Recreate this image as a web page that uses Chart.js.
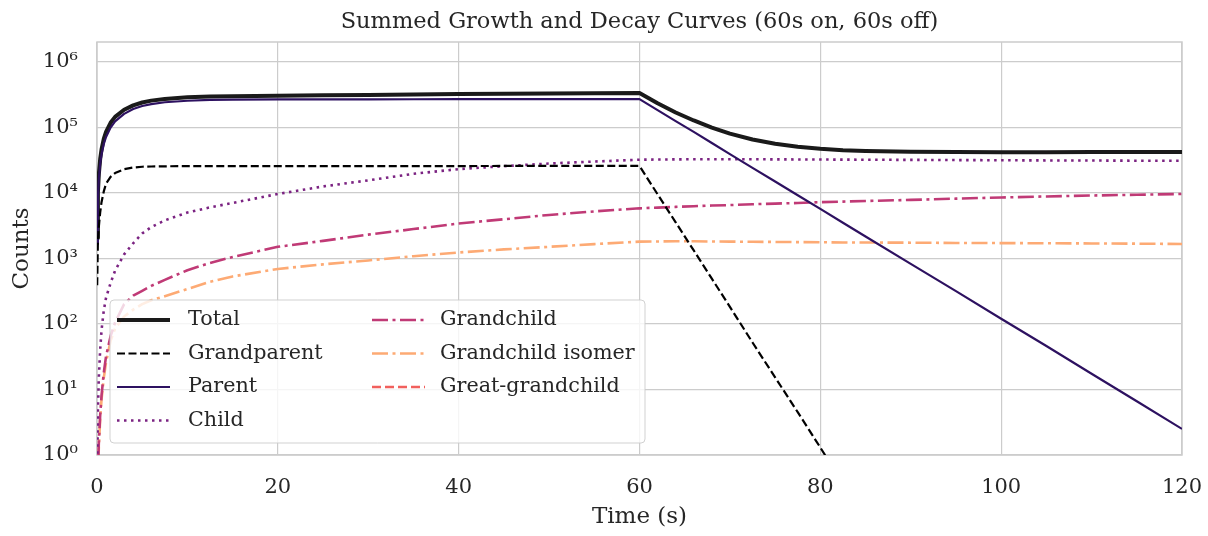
<!DOCTYPE html>
<html>
<head>
<meta charset="utf-8">
<script src="https://cdn.jsdelivr.net/npm/chart.js@4.4.1/dist/chart.umd.min.js"></script>
<style>
  html, body { margin: 0; padding: 0; background: #fff; }
  #wrap { width: 1208px; height: 536px; }
</style>
</head>
<body>
<div id="wrap"><canvas id="decayChart" width="1208" height="536"></canvas></div>
<script>
// time axis (s): 60 s irradiation, then 60 s decay
const time = [0, 0.02, 0.1, 0.2, 0.35, 0.5, 0.75, 1, 1.5, 2, 3, 4, 5, 6, 7.5, 10, 12.5, 15, 20, 25, 30, 35, 40, 45, 50, 55, 60,
  62, 64, 66, 68, 70, 72.5, 75, 77.5, 80, 82.5, 85, 90, 95, 100, 105, 110, 115, 120];

const total = [0, 2.05e3, 1.01e4, 1.91e4, 3.27e4, 4.58e4, 6.64e4, 8.51e4, 1.17e5, 1.44e5, 1.85e5, 2.16e5, 2.39e5, 2.55e5, 2.71e5,
  2.86e5, 2.94e5, 2.98e5, 3.03e5, 3.07e5, 3.11e5, 3.16e5, 3.21e5, 3.25e5, 3.28e5, 3.31e5, 3.34e5,
  2.32e5, 1.68e5, 1.27e5, 9.88e4, 8.0e4, 6.5e4, 5.59e4, 5.03e4, 4.69e4, 4.47e4, 4.34e4, 4.22e4, 4.18e4, 4.17e4, 4.17e4, 4.19e4, 4.19e4, 4.21e4];

const grandparent = [0, 390, 1.9e3, 3.0e3, 5.0e3, 7.2e3, 1.05e4, 1.38e4, 1.75e4, 2.0e4, 2.3e4, 2.43e4, 2.5e4, 2.52e4, 2.54e4,
  2.55e4, 2.55e4, 2.55e4, 2.56e4, 2.56e4, 2.56e4, 2.56e4, 2.56e4, 2.57e4, 2.57e4, 2.57e4, 2.57e4,
  9.5e3, 3.55e3, 1.32e3, 490, 182, 52, 15.3, 4.5, 1.3, 0.37, 0.11, null, null, null, null, null, null, null];

const parent = [0, 1.66e3, 8.2e3, 1.61e4, 2.76e4, 3.85e4, 5.57e4, 7.1e4, 9.9e4, 1.23e5, 1.6e5, 1.9e5, 2.11e5, 2.26e5, 2.41e5,
  2.54e5, 2.61e5, 2.64e5, 2.66e5, 2.665e5, 2.67e5, 2.675e5, 2.68e5, 2.683e5, 2.685e5, 2.688e5, 2.69e5,
  1.83e5, 1.24e5, 8.5e4, 5.75e4, 3.9e4, 2.4e4, 1.49e4, 9.2e3, 5.7e3, 3.5e3, 2.16e3, 825, 316, 120, 46, 17.4, 6.6, 2.5];

const child = [0, 0.5, 5, 15, 40, 80, 160, 250, 420, 650, 1.15e3, 1.7e3, 2.4e3, 3.0e3, 3.8e3,
  5.0e3, 6.0e3, 7.0e3, 9.6e3, 1.25e4, 1.55e4, 1.95e4, 2.3e4, 2.55e4, 2.8e4, 3.0e4, 3.2e4,
  3.22e4, 3.24e4, 3.25e4, 3.26e4, 3.26e4, 3.25e4, 3.24e4, 3.23e4, 3.22e4, 3.21e4, 3.2e4, 3.18e4, 3.16e4, 3.14e4, 3.12e4, 3.11e4, 3.09e4, 3.08e4];

const grandchild = [0, 0.05, 0.5, 1.5, 4, 8, 18, 32, 65, 105, 200, 270, 320, 380, 470,
  660, 850, 1.05e3, 1.5e3, 1.85e3, 2.3e3, 2.8e3, 3.4e3, 3.95e3, 4.6e3, 5.2e3, 5.8e3,
  5.95e3, 6.1e3, 6.25e3, 6.4e3, 6.5e3, 6.7e3, 6.85e3, 7.0e3, 7.2e3, 7.35e3, 7.5e3, 7.8e3, 8.15e3, 8.5e3, 8.8e3, 9.1e3, 9.35e3, 9.6e3];

const grandchildIsomer = [0, 0.04, 0.4, 1.3, 3.5, 7, 15, 26, 55, 85, 130, 165, 200, 230, 265,
  340, 440, 530, 690, 810, 930, 1.08e3, 1.23e3, 1.37e3, 1.5e3, 1.65e3, 1.8e3,
  1.81e3, 1.82e3, 1.82e3, 1.81e3, 1.8e3, 1.79e3, 1.78e3, 1.77e3, 1.76e3, 1.75e3, 1.745e3, 1.735e3, 1.72e3, 1.71e3, 1.70e3, 1.69e3, 1.675e3, 1.66e3];

// stays below one count over the whole window
const greatGrandchild = [];

const seriesNames = ['Total', 'Grandparent', 'Parent', 'Child', 'Grandchild', 'Grandchild isomer', 'Great-grandchild'];
const xTicks = [0, 20, 40, 60, 80, 100, 120];
const yTicks = [1, 10, 100, 1e3, 1e4, 1e5, 1e6];

const FONT = "'DejaVu Serif', 'Liberation Serif', serif";
const TEXT = '#262626';
const GRID = '#cccccc';

function pts(arr) {
  return time.map((t, i) => ({ x: t, y: arr[i] === undefined ? null : arr[i] })).filter(p => p.y !== null);
}

const styles = [
  { color: '#1a1a1a', width: 4, dash: [] },
  { color: '#000000', width: 2.2, dash: [8, 3.5] },
  { color: '#2d1160', width: 2.2, dash: [] },
  { color: '#7b2382', width: 2.6, dash: [2.5, 4.5] },
  { color: '#c03a76', width: 2.6, dash: [16, 4.5, 3, 4.5] },
  { color: '#fdaa74', width: 2.6, dash: [16, 4.5, 3, 4.5] },
  { color: '#f1605d', width: 2.4, dash: [9, 4] }
];

const seriesData = [total, grandparent, parent, child, grandchild, grandchildIsomer, greatGrandchild];

const datasets = seriesNames.map((name, i) => ({
  label: name,
  data: seriesData[i].length ? pts(seriesData[i]) : [],
  borderColor: styles[i].color,
  borderWidth: styles[i].width,
  borderDash: styles[i].dash,
  borderJoinStyle: 'round',
  pointRadius: 0,
  tension: 0,
  fill: false,
  order: i === 0 ? 10 : i
}));

const sup = ['⁰', '¹', '²', '³', '⁴', '⁵', '⁶', '⁷'];

// light frame round the plot area
const frame = {
  id: 'frame',
  beforeDatasetsDraw(chart) {
    const { ctx, chartArea: a } = chart;
    ctx.save();
    ctx.strokeStyle = GRID;
    ctx.lineWidth = 1.5;
    ctx.strokeRect(a.left, a.top, a.right - a.left, a.bottom - a.top);
    ctx.restore();
  }
};

// two-column legend box inside the plot
const boxLegend = {
  id: 'boxLegend',
  afterDatasetsDraw(chart) {
    const ctx = chart.ctx;
    const x0 = 110, y0 = 300, w = 535, h = 143;
    ctx.save();
    ctx.beginPath();
    ctx.roundRect(x0, y0, w, h, 4);
    ctx.fillStyle = 'rgba(255,255,255,0.8)';
    ctx.fill();
    ctx.strokeStyle = 'rgba(204,204,204,0.9)';
    ctx.lineWidth = 1;
    ctx.stroke();

    const cols = [{ lx: 117, tx: 188 }, { lx: 372, tx: 440 }];
    const rowY = [320, 353.5, 387, 420.5];
    ctx.font = '20.7px ' + FONT;
    ctx.textBaseline = 'middle';
    ctx.fillStyle = TEXT;
    seriesNames.forEach((name, i) => {
      const col = cols[i < 4 ? 0 : 1];
      const y = rowY[i < 4 ? i : i - 4];
      const s = styles[i];
      ctx.beginPath();
      ctx.setLineDash(s.dash);
      ctx.strokeStyle = s.color;
      ctx.lineWidth = s.width;
      ctx.moveTo(col.lx, y);
      ctx.lineTo(col.lx + 53, y);
      ctx.stroke();
      ctx.setLineDash([]);
      ctx.fillText(name, col.tx, y);
    });
    ctx.restore();
  }
};

new Chart(document.getElementById('decayChart'), {
  type: 'line',
  data: { datasets },
  options: {
    responsive: false,
    animation: false,
    devicePixelRatio: 1,
    layout: { padding: { left: 0, right: 26, top: 0, bottom: 0 } },
    plugins: {
      legend: { display: false },
      tooltip: { enabled: false },
      title: {
        display: true,
        fullSize: false,
        text: 'Summed Growth and Decay Curves (60s on, 60s off)',
        color: TEXT,
        font: { family: FONT, size: 22.5, weight: 'normal', lineHeight: 1.2 },
        padding: { top: 9, bottom: 6 }
      }
    },
    scales: {
      x: {
        type: 'linear',
        min: 0,
        max: 120,
        afterBuildTicks: s => { s.ticks = xTicks.map(v => ({ value: v })); },
        afterFit: s => { s.height = 81; s.paddingLeft = 0; s.paddingRight = 0; },
        grid: { color: GRID, lineWidth: 1.2, drawTicks: false },
        border: { display: false },
        ticks: { color: TEXT, padding: 20, font: { family: FONT, size: 21 } },
        title: {
          display: true, text: 'Time (s)', color: TEXT,
          font: { family: FONT, size: 23, lineHeight: 1.2 },
          padding: { top: 0, bottom: 5 }
        }
      },
      y: {
        type: 'logarithmic',
        min: 1,
        max: 2e6,
        afterBuildTicks: s => { s.ticks = yTicks.map(v => ({ value: v })); },
        afterFit: s => { s.width = 97; s.paddingTop = 0; s.paddingBottom = 0; },
        grid: { color: GRID, lineWidth: 1.2, drawTicks: false },
        border: { display: false },
        ticks: {
          color: TEXT, padding: 19, font: { family: FONT, size: 21 },
          callback: v => '10' + sup[Math.round(Math.log10(v))]
        },
        title: {
          display: true, text: 'Counts', color: TEXT,
          font: { family: FONT, size: 23, lineHeight: 1.2 },
          padding: { top: 8, bottom: 0 }
        }
      }
    }
  },
  plugins: [frame, boxLegend]
});
</script>
</body>
</html>
